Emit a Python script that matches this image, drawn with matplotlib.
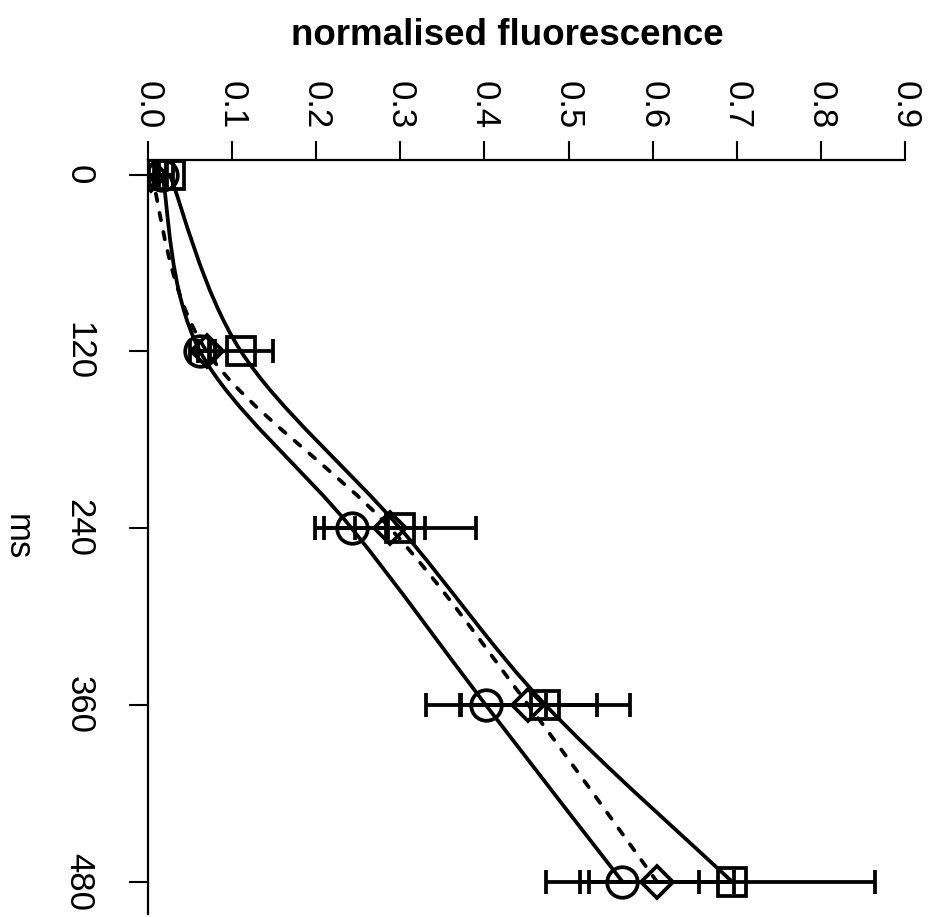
import matplotlib
matplotlib.use('Agg')
import matplotlib.pyplot as plt
from matplotlib.path import Path
from matplotlib.patches import PathPatch

plt.rcParams['font.family'] = ['Liberation Sans', 'DejaVu Sans']

# time points (ms) and normalised fluorescence for the three series
ms = [0, 120, 240, 360, 480]
circle_vals = [0.017, 0.062, 0.242, 0.4015, 0.564]
circle_err = [0.004, 0.012, 0.043, 0.0715, 0.0912]
square_vals = [0.026, 0.1106, 0.2996, 0.4725, 0.6944]
square_err = [0.004, 0.0386, 0.0904, 0.100, 0.170]
diamond_vals = [0.004, 0.070, 0.2878, 0.452, 0.605]
diamond_err = [0.003, 0.010, 0.042, 0.0815, 0.0912]

fl_ticks = [0.0, 0.1, 0.2, 0.3, 0.4, 0.5, 0.6, 0.7, 0.8, 0.9]
ms_ticks = [0, 120, 240, 360, 480]


def smooth_path(xs, ys):
    # excel style smoothed line (catmull-rom through the points)
    pts = list(zip(xs, ys))
    n = len(pts)
    verts = [pts[0]]
    codes = [Path.MOVETO]
    for i in range(n - 1):
        p0 = pts[max(i - 1, 0)]
        p1 = pts[i]
        p2 = pts[i + 1]
        p3 = pts[min(i + 2, n - 1)]
        c1 = (p1[0] + (p2[0] - p0[0]) / 6, p1[1] + (p2[1] - p0[1]) / 6)
        c2 = (p2[0] - (p3[0] - p1[0]) / 6, p2[1] - (p3[1] - p1[1]) / 6)
        verts += [c1, c2, p2]
        codes += [Path.CURVE4] * 3
    return Path(verts, codes)


fig = plt.figure(figsize=(9.32, 9.17), dpi=100)
ax = fig.add_axes([148 / 932, 3 / 917, 757 / 932, 754 / 917])

lw = 2.7
series = [
    (circle_vals, circle_err, 'o', 22, '-'),
    (square_vals, square_err, 's', 20.5, '-'),
    (diamond_vals, diamond_err, 'D', 16, (0, (2.0, 3.2))),
]
for vals, err, mk, size, ls in series:
    ax.add_patch(PathPatch(smooth_path(vals, ms), fill=False, edgecolor='k',
                           lw=lw, linestyle=ls, capstyle='round'))
    ax.errorbar(vals, ms, xerr=err, fmt='none', ecolor='k', elinewidth=lw,
                capsize=8.3, capthick=lw)
    ax.plot(vals, ms, linestyle='none', marker=mk, markersize=size,
            mfc='none', mec='k', mew=lw)

ax.set_xlim(0, 0.9)
ax.set_ylim(502, -10)

ax.spines['right'].set_visible(False)
ax.spines['bottom'].set_visible(False)
ax.spines['top'].set_linewidth(1.6)
ax.spines['left'].set_linewidth(1.6)

ax.xaxis.tick_top()
ax.set_xticks(fl_ticks)
ax.set_xticklabels(['%.1f' % v for v in fl_ticks], rotation=-90)
ax.set_yticks(ms_ticks)
ax.set_yticklabels([str(v) for v in ms_ticks], rotation=-90, va='center')
ax.tick_params(axis='x', direction='out', length=14, width=1.5,
               labelsize=25, pad=8)
ax.tick_params(axis='y', direction='out', length=14, width=1.5,
               labelsize=25, pad=24)

fig.text(507 / 932, 1 - 45 / 917, 'normalised fluorescence', ha='center',
         va='baseline', fontsize=26.5, fontweight='bold')
fig.text(17 / 932, 1 - 537 / 917, 'ms', ha='center', va='center',
         rotation=-90, fontsize=25)

fig.savefig('out.png', dpi=100)
